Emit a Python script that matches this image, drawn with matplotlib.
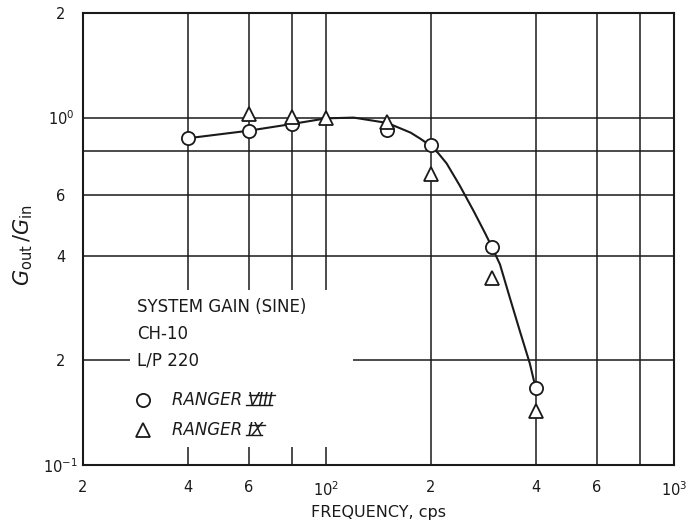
import matplotlib
matplotlib.use("Agg")
import matplotlib.pyplot as plt
from matplotlib.patches import Rectangle
from matplotlib.lines import Line2D

# ---- data ----
freq_r8 = [40, 60, 80, 150, 200, 300, 400]
gain_r8 = [0.872, 0.917, 0.959, 0.923, 0.834, 0.423, 0.167]

freq_r9 = [60, 80, 100, 150, 200, 300, 400]
gain_r9 = [1.025, 1.004, 1.0, 0.974, 0.688, 0.346, 0.143]

curve_freq = [40, 60, 80, 100, 120, 150, 175, 187, 200, 210, 222, 242, 265, 286, 300,
              316, 337, 360, 385, 400]
curve_gain = [0.872, 0.917, 0.959, 0.995, 1.0, 0.965, 0.905, 0.868, 0.828, 0.79, 0.738,
              0.638, 0.540, 0.466, 0.423, 0.378, 0.304, 0.244, 0.196, 0.167]

xticks = [20, 40, 60, 100, 200, 400, 600, 1000]
xticklabels = ["2", "4", "6", "$10^2$", "2", "4", "6", "$10^3$"]
xgrid = [40, 60, 80, 100, 200, 400, 600, 800]

yticks = [0.1, 0.2, 0.4, 0.6, 1.0, 2.0]
yticklabels = ["$10^{-1}$", "2", "4", "6", "$10^0$", "2"]
ygrid = [0.2, 0.4, 0.6, 0.8, 1.0]

ink = "#1a1a1a"
plt.rcParams['font.family'] = ['DejaVu Sans']
plt.rcParams['mathtext.fontset'] = 'dejavusans'

fig = plt.figure(figsize=(6.87, 5.21), dpi=100)
ax = fig.add_axes([0.1208, 0.1075, 0.8603, 0.8675])
ax.set_xscale('log')
ax.set_yscale('log')
ax.set_xlim(20, 1000)
ax.set_ylim(0.1, 2.0)

# grid
for xv in xgrid:
    ax.axvline(xv, color=ink, lw=1.1, zorder=1)
for yv in ygrid:
    ax.axhline(yv, color=ink, lw=1.1, zorder=1)

# white area behind the annotation block
ax.add_patch(Rectangle((0.0795, 0.04), 0.378, 0.347, transform=ax.transAxes,
                       facecolor='white', edgecolor='none', zorder=2))

# curve and points
ax.plot(curve_freq, curve_gain, color=ink, lw=1.5, zorder=3, solid_joinstyle='round')
ax.plot(freq_r8, gain_r8, linestyle='none', marker='o', ms=9.5, mfc='white',
        mec=ink, mew=1.3, zorder=4)
ax.plot(freq_r9, gain_r9, linestyle='none', marker='^', ms=10, mfc='white',
        mec=ink, mew=1.3, zorder=5)

# ticks
ax.minorticks_off()
ax.set_xticks(xticks)
ax.set_xticklabels(xticklabels)
ax.set_yticks(yticks)
ax.set_yticklabels(yticklabels)
ax.tick_params(axis='both', which='both', length=0, labelsize=10.5, colors=ink)
ax.tick_params(axis='x', pad=11)
ax.tick_params(axis='y', pad=16)
for lab in ax.get_yticklabels():
    lab.set_horizontalalignment('center')
for sp in ax.spines.values():
    sp.set_color(ink)
    sp.set_linewidth(1.5)

ax.set_xlabel("FREQUENCY, cps", fontsize=11.5, color=ink)
ax.xaxis.set_label_coords(0.5, -0.088)
ax.set_ylabel(r"$G_{\mathrm{out}}\,/G_{\mathrm{in}}$", fontsize=15, color=ink)
ax.yaxis.set_label_coords(-0.081, 0.487)

# annotation block
tx = 0.0914
ax.text(tx, 0.3496, "SYSTEM GAIN (SINE)", transform=ax.transAxes, fontsize=12,
        va='center', ha='left', color=ink, zorder=6)
ax.text(tx, 0.2898, "CH-10", transform=ax.transAxes, fontsize=12,
        va='center', ha='left', color=ink, zorder=6)
ax.text(tx, 0.2323, "L/P 220", transform=ax.transAxes, fontsize=12,
        va='center', ha='left', color=ink, zorder=6)

ax.add_line(Line2D([0.102], [0.1438], transform=ax.transAxes, marker='o', ms=9.5,
                   mfc='white', mec=ink, mew=1.3, zorder=6))
ax.add_line(Line2D([0.102], [0.0774], transform=ax.transAxes, marker='^', ms=10,
                   mfc='white', mec=ink, mew=1.3, zorder=6))

t1 = ax.text(0.1506, 0.1438, "RANGER ", transform=ax.transAxes, fontsize=12,
             style='italic', va='center', ha='left', color=ink, zorder=6)
t2 = ax.text(0.1506, 0.0774, "RANGER ", transform=ax.transAxes, fontsize=12,
             style='italic', va='center', ha='left', color=ink, zorder=6)

fig.canvas.draw()
renderer = fig.canvas.get_renderer()
inv = ax.transAxes.inverted()
for t, numeral in ((t1, "VIII"), (t2, "IX")):
    bb = t.get_window_extent(renderer)
    x0 = inv.transform((bb.x1, bb.y0))[0]
    _, yc = t.get_position()
    n = ax.text(x0, yc, numeral, transform=ax.transAxes, fontsize=12,
                style='italic', va='center', ha='left', color=ink, zorder=6)
    fig.canvas.draw()
    nb = n.get_window_extent(renderer)
    h = nb.y1 - nb.y0
    top = nb.y0 + h * 0.80
    bot = nb.y0 + h * 0.22
    for yy, shift in ((top, 1.5), (bot, -1.5)):
        (ax0, ay), (ax1, _) = inv.transform([(nb.x0 + shift, yy), (nb.x1 + shift, yy)])
        ax.add_line(Line2D([ax0, ax1], [ay, ay], transform=ax.transAxes,
                           color=ink, lw=1.0, zorder=6))

fig.savefig("out.png", dpi=100)
